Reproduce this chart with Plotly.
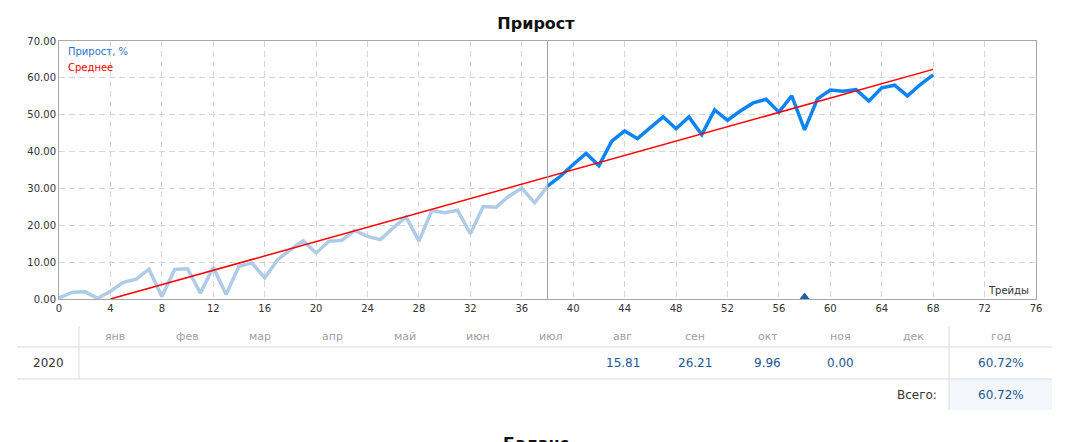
import plotly.graph_objects as go

# ---------------- data ----------------
trades = list(range(69))
growth = [0.3, 1.8, 2.0, 0.2, 2.1, 4.5, 5.4, 8.1, 0.7, 8.0,
          8.2, 1.6, 8.6, 1.2, 8.9, 9.8, 5.7, 10.6, 13.4, 15.8,
          12.5, 15.7, 15.9, 18.6, 17.0, 16.1, 19.3, 22.3, 15.7, 24.0,
          23.4, 24.1, 17.7, 25.1, 24.9, 27.9, 30.1, 26.1, 30.6, 33.3,
          36.5, 39.5, 36.2, 42.8, 45.6, 43.5, 46.5, 49.4, 46.2, 49.4,
          44.6, 51.3, 48.5, 51.0, 53.2, 54.2, 50.7, 55.1, 45.9, 54.3,
          56.7, 56.4, 56.8, 53.7, 57.3, 58.0, 55.1, 58.2, 60.8]
split_trade = 38
trend_x = [4, 68]
trend_y = [0.0, 62.3]
marker_trades = [58]
marker_vals = [0]

x_ticks = list(range(0, 77, 4))
y_ticks = [0, 10, 20, 30, 40, 50, 60, 70]

months = ["янв", "фев", "мар", "апр", "май", "июн", "июл", "авг", "сен", "окт", "ноя", "дек"]
year_label = "2020"
month_values = ["", "", "", "", "", "", "", "15.81", "26.21", "9.96", "0.00", ""]
year_total = "60.72%"
grand_total = "60.72%"

# ---------------- layout geometry ----------------
W, H = 1072, 442
L, R, T, B = 59, 1036, 41, 299


def px(xp):
    return (xp - L) / (R - L)


def py(yp):
    return (B - yp) / (B - T)


FONT = "DejaVu Sans"
LIGHT = "#aecbe8"
DARK = "#0d84f5"

fig = go.Figure()
fig.add_trace(go.Scatter(x=trades[:split_trade + 1], y=growth[:split_trade + 1], mode="lines",
                         line=dict(color=LIGHT, width=3.5), hoverinfo="skip"))
fig.add_trace(go.Scatter(x=trades[split_trade:], y=growth[split_trade:], mode="lines",
                         line=dict(color=DARK, width=3.5), hoverinfo="skip"))
fig.add_trace(go.Scatter(x=trend_x, y=trend_y, mode="lines",
                         line=dict(color="#ff0000", width=1.5), hoverinfo="skip"))
fig.add_trace(go.Scatter(x=marker_trades, y=marker_vals, mode="markers", cliponaxis=True,
                         marker=dict(symbol="triangle-up", size=13, color="#1a60a3"), hoverinfo="skip"))

shapes = []
# vertical separator at split trade
shapes.append(dict(type="line", xref="x", yref="paper", x0=split_trade, x1=split_trade, y0=0, y1=1,
                   line=dict(color="#a0a0a0", width=1)))

# table geometry
tbl_left, tbl_right = 17, 1052
col_split1, col_split2 = 79, 949
row_h1, row_h2 = 347, 379
tot_bottom = 410
shapes.append(dict(type="rect", xref="paper", yref="paper", x0=px(col_split2), x1=px(tbl_right),
                   y0=py(row_h2), y1=py(tot_bottom), fillcolor="#f3f6fb", line=dict(width=0), layer="below"))
for yy in (row_h1, row_h2):
    shapes.append(dict(type="line", xref="paper", yref="paper", x0=px(tbl_left), x1=px(tbl_right),
                       y0=py(yy), y1=py(yy), line=dict(color="#dcdcdc", width=1)))
shapes.append(dict(type="line", xref="paper", yref="paper", x0=px(col_split1), x1=px(col_split1),
                   y0=py(326), y1=py(row_h2), line=dict(color="#dcdcdc", width=1)))
shapes.append(dict(type="line", xref="paper", yref="paper", x0=px(col_split2), x1=px(col_split2),
                   y0=py(326), y1=py(tot_bottom), line=dict(color="#dcdcdc", width=1)))

ann = []
# in-plot legend
ann.append(dict(text="Прирост, %", xref="paper", yref="paper", x=px(66), y=py(52), xanchor="left",
                yanchor="middle", showarrow=False, font=dict(family=FONT, size=10, color="#2a72d6")))
ann.append(dict(text="Среднее", xref="paper", yref="paper", x=px(66), y=py(68), xanchor="left",
                yanchor="middle", showarrow=False, font=dict(family=FONT, size=10, color="#ff0000")))
ann.append(dict(text="Трейды", xref="paper", yref="paper", x=px(1031), y=py(290), xanchor="right",
                yanchor="middle", showarrow=False, font=dict(family=FONT, size=10, color="#333333")))

# table text
month_x0, month_dx = 114.5, 72.6
hdr_y, row_y, tot_y = 336.5, 363, 394.5
for i, m in enumerate(months):
    cx = month_x0 + i * month_dx
    ann.append(dict(text=m, xref="paper", yref="paper", x=px(cx), y=py(hdr_y), xanchor="center",
                    yanchor="middle", showarrow=False, font=dict(family=FONT, size=11, color="#a0a0a0")))
    if month_values[i]:
        ann.append(dict(text=month_values[i], xref="paper", yref="paper", x=px(cx), y=py(row_y),
                        xanchor="center", yanchor="middle", showarrow=False,
                        font=dict(family=FONT, size=12, color="#1c5696")))
ann.append(dict(text="год", xref="paper", yref="paper", x=px(1001), y=py(hdr_y), xanchor="center",
                yanchor="middle", showarrow=False, font=dict(family=FONT, size=11, color="#a0a0a0")))
ann.append(dict(text=year_label, xref="paper", yref="paper", x=px(48), y=py(row_y), xanchor="center",
                yanchor="middle", showarrow=False, font=dict(family=FONT, size=12, color="#333333")))
ann.append(dict(text=year_total, xref="paper", yref="paper", x=px(1001), y=py(row_y), xanchor="center",
                yanchor="middle", showarrow=False, font=dict(family=FONT, size=12, color="#1c5696")))
ann.append(dict(text="Всего:", xref="paper", yref="paper", x=px(939), y=py(tot_y), xanchor="right",
                yanchor="middle", showarrow=False, font=dict(family=FONT, size=12, color="#333333")))
ann.append(dict(text=grand_total, xref="paper", yref="paper", x=px(1001), y=py(tot_y), xanchor="center",
                yanchor="middle", showarrow=False, font=dict(family=FONT, size=12, color="#1c5696")))
# next chart title (cut off)
ann.append(dict(text="<b>Баланс</b>", xref="paper", yref="paper", x=px(536), y=py(443), xanchor="center",
                yanchor="middle", showarrow=False, font=dict(family=FONT, size=16, color="#111111")))

fig.update_layout(
    width=W, height=H,
    margin=dict(l=L, r=W - R, t=T, b=H - B, pad=0),
    paper_bgcolor="white", plot_bgcolor="white",
    showlegend=False,
    title=dict(text="<b>Прирост</b>", x=px(536), xref="paper", xanchor="center",
               y=1 - 23 / H, yref="container", yanchor="middle",
               font=dict(family=FONT, size=16, color="#111111")),
    font=dict(family=FONT, size=10, color="#333333"),
    shapes=shapes, annotations=ann,
)
fig.update_xaxes(range=[0, 76], tickvals=x_ticks, ticktext=[str(v) for v in x_ticks],
                 showgrid=True, gridcolor="#d6d6d6", griddash="6px,4px", gridwidth=1,
                 showline=True, linecolor="#a8a8a8", linewidth=1, mirror=True,
                 zeroline=False, ticks="", tickfont=dict(family=FONT, size=10, color="#333333"))
fig.update_yaxes(range=[0, 70], tickvals=y_ticks, ticktext=[f"{v:.2f}" for v in y_ticks],
                 showgrid=True, gridcolor="#d6d6d6", griddash="6px,4px", gridwidth=1,
                 showline=True, linecolor="#a8a8a8", linewidth=1, mirror=True,
                 zeroline=False, ticks="", tickfont=dict(family=FONT, size=10, color="#333333"))

fig.write_html("out.html")
